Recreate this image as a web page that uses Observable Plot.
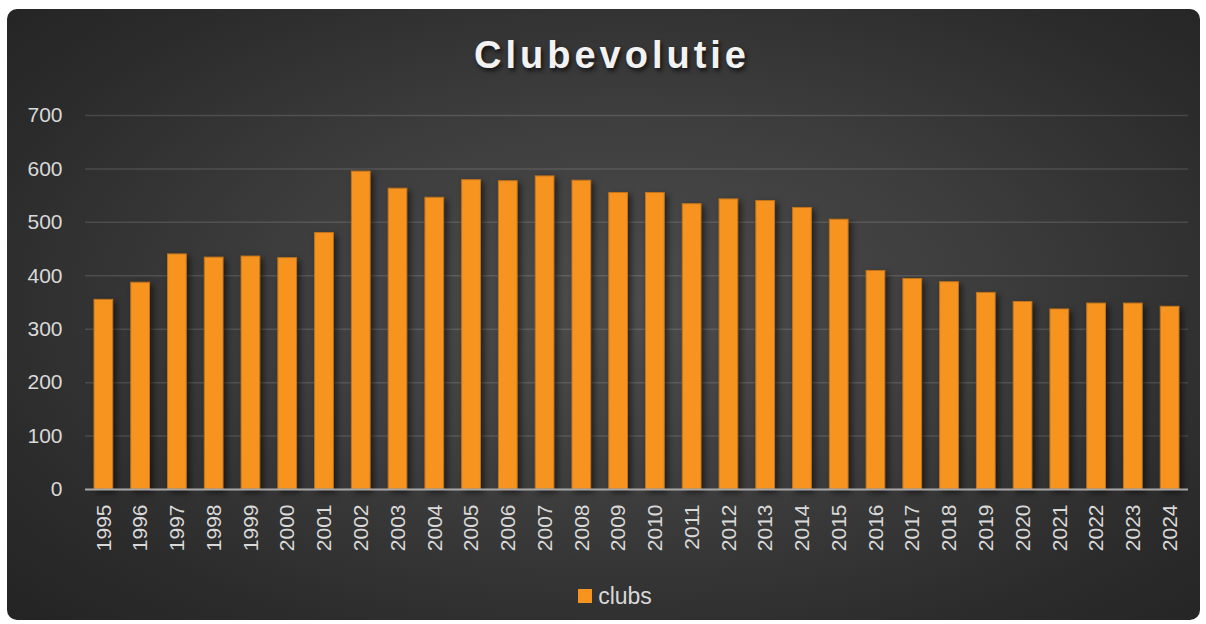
<!DOCTYPE html>
<html>
<head>
<meta charset="utf-8">
<script src="https://cdn.jsdelivr.net/npm/d3@7"></script>
<script src="https://cdn.jsdelivr.net/npm/@observablehq/plot@0.6"></script>
<style>
  html, body { margin: 0; padding: 0; background: #ffffff; }
  #page { position: relative; width: 1206px; height: 624px; background: #ffffff; overflow: hidden; }
  #box {
    position: absolute; left: 7px; top: 9px; width: 1193px; height: 611px;
    border-radius: 10px; overflow: hidden;
    background: radial-gradient(ellipse 75% 80% at 52% 48%, #4d4d4d 0%, #3d3d3d 40%, #2b2b2b 75%, #222222 100%);
    font-family: "Liberation Sans", Arial, sans-serif;
  }
  #title {
    height: 56px; padding-top: 24px; line-height: 44px; text-align: center;
    padding-left: 17px; box-sizing: content-box;
    font-size: 38px; font-weight: bold; letter-spacing: 4px; color: #f2f2f2;
    text-shadow: 2px 3px 4px rgba(0,0,0,0.65);
  }
  #chart svg { display: block; overflow: visible; }
  #chart g[aria-label="bar"] { filter: drop-shadow(3px 3px 3px rgba(0,0,0,0.55)); }
  #legend {
    height: 54px; display: flex; justify-content: center; align-items: center;
    padding-left: 23px; color: #d9d9d9; font-size: 23px;
  }
  #legend .sw { width: 14px; height: 14px; background: #F7941F; margin-right: 6px; }
</style>
</head>
<body>
<div id="page">
  <div id="box">
    <div id="title">Clubevolutie</div>
    <div id="chart"></div>
    <div id="legend"><span class="sw"></span><span>clubs</span></div>
  </div>
</div>
<script>
const years = ["1995","1996","1997","1998","1999","2000","2001","2002","2003","2004","2005","2006","2007","2008","2009","2010","2011","2012","2013","2014","2015","2016","2017","2018","2019","2020","2021","2022","2023","2024"];
const clubs = [355, 387, 440, 434, 436, 433, 480, 595, 563, 546, 579, 577, 586, 578, 555, 555, 534, 543, 540, 527, 505, 409, 394, 388, 368, 351, 337, 348, 348, 342];
const yTicks = [0, 100, 200, 300, 400, 500, 600, 700];

const data = years.map((y, i) => ({year: y, clubs: clubs[i]}));

const chart = Plot.plot({
  width: 1193,
  height: 480,
  marginTop: 26,
  marginBottom: 80,
  marginLeft: 78,
  marginRight: 12,
  style: {background: "transparent", color: "#d9d9d9", fontFamily: "'Liberation Sans', Arial, sans-serif", fontSize: "21px"},
  x: {domain: years, paddingInner: 0.49, paddingOuter: 0.245, round: false, label: null},
  y: {domain: [0, 700], label: null},
  marks: [
    Plot.gridY(yTicks, {stroke: "#ffffff", strokeOpacity: 0.13, strokeWidth: 1.5}),
    Plot.barY(data, {x: "year", y: "clubs", fill: "#F7941F", stroke: "#C2741C", strokeWidth: 1}),
    Plot.ruleY([0], {stroke: "#a6a6a6", strokeWidth: 2}),
    Plot.axisY(yTicks, {tickSize: 0, tickPadding: 23, label: null, fontSize: 21, fill: "#d9d9d9"}),
    Plot.axisX({tickSize: 0, tickPadding: 15, tickRotate: -90, label: null, fontSize: 21, fill: "#d9d9d9"})
  ]
});
document.getElementById("chart").appendChild(chart);
</script>
</body>
</html>
